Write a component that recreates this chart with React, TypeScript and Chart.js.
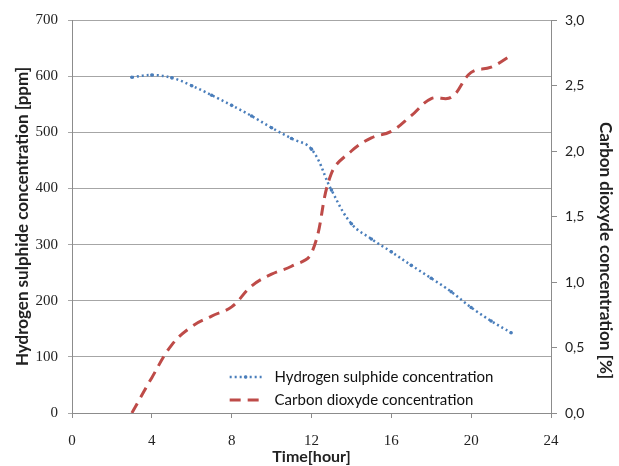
import React, { useEffect, useRef } from "react";
import { Chart, registerables } from "chart.js";

Chart.register(...registerables);

const hours = [3, 4, 5, 6, 7, 8, 9, 10, 11, 12, 13, 14, 15, 16, 17, 18, 19, 20, 21, 22];
const h2sPpm = [598, 602, 597, 583, 566, 548, 529, 508, 489, 470, 397, 337, 310, 287, 263, 240, 216, 188, 164, 143];
const co2Pct = [0.0, 0.27, 0.52, 0.66, 0.74, 0.81, 0.97, 1.06, 1.12, 1.22, 1.83, 2.0, 2.1, 2.15, 2.27, 2.4, 2.41, 2.6, 2.64, 2.73];
const xTicks = [0, 4, 8, 12, 16, 20, 24];
const leftTicks = [0, 100, 200, 300, 400, 500, 600, 700];
const rightTicks = [0, 0.5, 1, 1.5, 2, 2.5, 3];

const seriesNames = ["Hydrogen sulphide concentration", "Carbon dioxyde concentration"];
const rightTitle = "Carbon dioxyde concentration [%]";

const BLUE = "#4A7EBB";
const RED = "#BE4B48";
const AXIS = "#8C8C8C";
const GRID = "#A6A6A6";

const legendPlugin = {
  id: "insideLegend",
  afterDraw(chart: any) {
    const ctx = chart.ctx;
    const xs = chart.scales.x;
    const ys = chart.scales.y;
    const x0 = xs.getPixelForValue(7.9);
    const x1 = xs.getPixelForValue(9.5);
    const tx = xs.getPixelForValue(10.15);
    const rows = [ys.getPixelForValue(64), ys.getPixelForValue(23)];
    chart.data.datasets.forEach((ds: any, i: number) => {
      const y = rows[i];
      ctx.save();
      ctx.strokeStyle = ds.borderColor;
      ctx.lineWidth = ds.borderWidth;
      ctx.setLineDash(ds.borderDash || []);
      ctx.beginPath();
      ctx.moveTo(x0, y);
      ctx.lineTo(x1, y);
      ctx.stroke();
      if (ds.pointRadius) {
        ctx.setLineDash([]);
        ctx.fillStyle = ds.borderColor;
        ctx.beginPath();
        ctx.arc((x0 + x1) / 2, y, ds.pointRadius, 0, Math.PI * 2);
        ctx.fill();
      }
      ctx.fillStyle = "#111";
      ctx.font = "15px Lato";
      ctx.textBaseline = "middle";
      ctx.textAlign = "left";
      ctx.fillText(ds.label, tx, y);
      ctx.restore();
    });
    // right axis title
    const ry = chart.scales.y1;
    ctx.save();
    ctx.translate(ry.right - 14, ry.getPixelForValue(1.24));
    ctx.rotate(Math.PI / 2);
    ctx.fillStyle = "#222";
    ctx.font = "bold 17px Lato";
    ctx.textAlign = "center";
    ctx.textBaseline = "middle";
    ctx.fillText(rightTitle, 0, 0);
    ctx.restore();
  },
};

export default function App() {
  const ref = useRef<HTMLCanvasElement | null>(null);
  useEffect(() => {
    document.body.style.margin = "0";
    const canvas = ref.current;
    if (!canvas) return;
    const chart = new Chart(canvas, {
      type: "line",
      data: {
        datasets: [
          {
            label: seriesNames[0],
            data: hours.map((h, i) => ({ x: h, y: h2sPpm[i] })),
            yAxisID: "y",
            borderColor: BLUE,
            backgroundColor: BLUE,
            borderWidth: 2.5,
            borderDash: [2, 3],
            pointRadius: 1.8,
            pointBorderWidth: 0,
            tension: 0.4,
          },
          {
            label: seriesNames[1],
            data: hours.map((h, i) => ({ x: h, y: co2Pct[i] })),
            yAxisID: "y1",
            borderColor: RED,
            backgroundColor: RED,
            borderWidth: 3,
            borderDash: [11, 7],
            pointRadius: 0,
            tension: 0.4,
          },
        ],
      },
      options: {
        responsive: false,
        animation: false,
        layout: { padding: { top: 20, left: 0, right: 0, bottom: 0 } },
        plugins: { legend: { display: false }, tooltip: { enabled: false } },
        scales: {
          x: {
            type: "linear",
            min: 0,
            max: 24,
            afterFit: (s: any) => { s.height = 53; },
            afterBuildTicks: (s: any) => { s.ticks = xTicks.map((v) => ({ value: v })); },
            grid: { drawOnChartArea: false, drawTicks: true, tickLength: 5, color: AXIS },
            border: { display: true, color: AXIS, width: 1 },
            ticks: { color: "#222", font: { family: "Liberation Serif", size: 15 }, padding: 14 },
            title: {
              display: true,
              text: "Time[hour]",
              color: "#222",
              font: { family: "Lato", size: 16, weight: "bold" },
              padding: { top: 0, bottom: 0 },
            },
          },
          y: {
            type: "linear",
            position: "left",
            min: 0,
            max: 700,
            afterFit: (s: any) => { s.width = 72; },
            afterBuildTicks: (s: any) => { s.ticks = leftTicks.map((v) => ({ value: v })); },
            grid: { color: GRID, drawTicks: true, tickLength: 4, lineWidth: 1 },
            border: { display: true, color: AXIS, width: 1 },
            ticks: { color: "#222", font: { family: "Liberation Serif", size: 15 }, padding: 10 },
            title: {
              display: true,
              text: "Hydrogen sulphide concentration [ppm]",
              color: "#222",
              font: { family: "Lato", size: 17, weight: "bold" },
              padding: { top: 12, bottom: 0 },
            },
          },
          y1: {
            type: "linear",
            position: "right",
            min: 0,
            max: 3,
            afterFit: (s: any) => { s.width = 68; },
            afterBuildTicks: (s: any) => { s.ticks = rightTicks.map((v) => ({ value: v })); },
            grid: { drawOnChartArea: false, drawTicks: true, tickLength: 6, color: AXIS },
            border: { display: true, color: AXIS, width: 1 },
            ticks: {
              color: "#222",
              font: { family: "Lato", size: 14 },
              padding: 8,
              callback: (v: any) => Number(v).toFixed(1).replace(".", ","),
            },
            title: { display: false },
          },
        },
      },
      plugins: [legendPlugin],
    });
    return () => chart.destroy();
  }, []);
  return <canvas ref={ref} width={619} height={466} style={{ display: "block", width: 619, height: 466 }} />;
}
